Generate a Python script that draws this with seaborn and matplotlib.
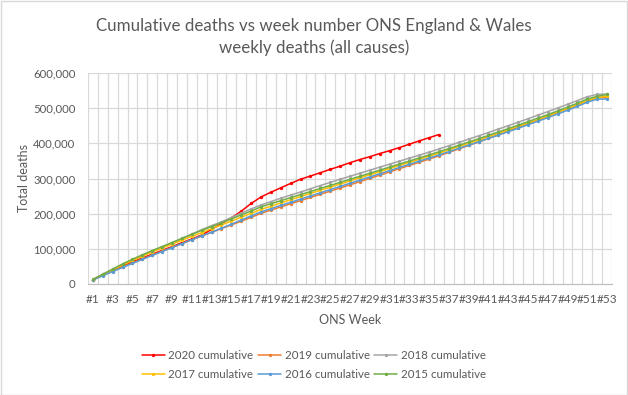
import matplotlib
matplotlib.use("Agg")
import matplotlib.pyplot as plt
import seaborn as sns
import pandas as pd
from matplotlib.patches import Rectangle
from matplotlib.ticker import FuncFormatter, FixedLocator
from matplotlib.lines import Line2D

# ---------------- data (cumulative deaths) ----------------
weeks = list(range(1, 54))
week_labels = ["#%d" % w for w in range(1, 54, 2)]

cum_2020 = [12300, 26300, 39300, 51200, 62800, 73800, 84700, 95500, 106300, 117400,
            128000, 139200, 155000, 172000, 188000, 207000, 229000, 247500, 261000, 273500,
            286000, 298000, 307000, 316500, 326000, 335000, 345000, 354000, 362000, 371000,
            379000, 388000, 397500, 407000, 416000, 425000]
cum_2019 = [12000, 24500, 36600, 48400, 60000, 71300, 82300, 93200, 104000, 114800,
            125600, 136500, 147000, 157600, 168000, 178400, 189500, 201000, 210000, 219200,
            228200, 237000, 246000, 255000, 264000, 273000, 282000, 291000, 300200, 309400,
            318600, 327800, 337000, 346100, 355100, 364500, 374200, 384000, 393900, 403900,
            414000, 424200, 434500, 444900, 455400, 466000, 476700, 487500, 498400, 509200,
            520000, 529500, 530000]
cum_2018 = [12700, 27800, 42000, 55600, 68600, 81000, 93100, 104900, 116600, 129500,
            142000, 154500, 166000, 176600, 189000, 201300, 213400, 224800, 234300, 244000,
            253000, 261500, 271000, 280000, 289000, 297800, 306400, 315000, 323600, 332200,
            340800, 349400, 357900, 366200, 375000, 384000, 393200, 402500, 411800, 421300,
            430800, 440400, 450100, 460000, 469900, 480000, 490200, 500400, 510900, 521600,
            532500, 539000, 540200]
cum_2017 = [12500, 26500, 40500, 54000, 67000, 79200, 91000, 102300, 113500, 124600,
            135500, 146200, 157500, 168000, 178500, 190000, 201000, 212000, 221200, 230600,
            239600, 248600, 257600, 266500, 275400, 284200, 293000, 301800, 310600, 319400,
            328200, 337000, 345800, 354600, 363300, 372000, 381300, 390600, 399900, 409300,
            418800, 428400, 438100, 447900, 457800, 467800, 478000, 488400, 499000, 510000,
            521500, 530000, 534000]
cum_2016 = [11500, 23500, 35500, 47200, 58700, 70000, 81200, 92400, 103600, 114800,
            126000, 137000, 147000, 158500, 170000, 182000, 193500, 205000, 214200, 223500,
            232300, 241400, 250400, 259400, 268400, 277400, 286400, 295400, 304400, 313400,
            322400, 331400, 340400, 349400, 358200, 367000, 376300, 385600, 394900, 404300,
            413800, 423400, 433100, 442900, 452800, 462800, 473000, 483400, 494000, 505200,
            516800, 525500, 526000]
cum_2015 = [13000, 27500, 42500, 57000, 70500, 83000, 95000, 106500, 118000, 129500,
            141000, 152500, 163500, 174000, 185000, 196500, 207500, 219500, 228300, 237000,
            245600, 254200, 262900, 271600, 280300, 289000, 297600, 306200, 314900, 323600,
            332300, 341000, 349700, 358400, 367100, 376000, 385100, 394300, 403600, 413000,
            422500, 432100, 441800, 451600, 461500, 471500, 481600, 492000, 502900, 514200,
            526000, 533500, 539000]

series_names = ["2020 cumulative", "2019 cumulative", "2018 cumulative",
                "2017 cumulative", "2016 cumulative", "2015 cumulative"]
series_values = [cum_2020, cum_2019, cum_2018, cum_2017, cum_2016, cum_2015]
series_colors = ["#FF0000", "#ED7D31", "#A5A5A5", "#FFC000", "#5B9BD5", "#70AD47"]

# ---------------- styling ----------------
sns.set_style("white")
plt.rcParams["font.family"] = ["Lato", "DejaVu Sans"]
text_color = "#595959"
grid_color = "#D9D9D9"

fig = plt.figure(figsize=(6.28, 3.95), dpi=100)
ax = fig.add_axes([88 / 628, 1 - 284 / 395, (612 - 88) / 628, (284 - 73) / 395])

for name, vals, col in zip(series_names, series_values, series_colors):
    df = pd.DataFrame({"week": weeks[:len(vals)], "deaths": vals})
    sns.lineplot(data=df, x="week", y="deaths", ax=ax, color=col, linewidth=1.1,
                 marker="o", markersize=2.4, markeredgewidth=0, label=name, legend=False)

ax.set_xlim(0.5, 53.5)
ax.set_ylim(0, 600000)
ax.yaxis.set_major_locator(FixedLocator(range(0, 600001, 100000)))
ax.yaxis.set_major_formatter(FuncFormatter(lambda v, p: "{:,.0f}".format(v)))
ax.set_xticks(list(range(1, 54, 2)))
ax.set_xticklabels(week_labels)
# vertical grid at category boundaries
for b in range(0, 54):
    ax.axvline(b + 0.5, color=grid_color, linewidth=0.9, zorder=0)
for v in range(100000, 600001, 100000):
    ax.axhline(v, color=grid_color, linewidth=0.9, zorder=0)

for s in ["top", "right", "left"]:
    ax.spines[s].set_visible(False)
ax.spines["bottom"].set_color("#BFBFBF")
ax.spines["bottom"].set_linewidth(0.9)
ax.tick_params(axis="y", length=0, labelsize=8.2, colors=text_color, pad=9)
ax.tick_params(axis="x", length=0, labelsize=8.5, colors=text_color, pad=7)

ax.set_xlabel("ONS Week", fontsize=9, color=text_color, labelpad=7)
ax.set_ylabel("Total deaths", fontsize=9, color=text_color)
ax.yaxis.set_label_coords(-0.11, 0.5)

fig.text(0.5, 1 - 26 / 395, "Cumulative deaths vs week number ONS England & Wales",
         ha="center", va="center", fontsize=12.2, color=text_color)
fig.text(0.5, 1 - 48 / 395, "weekly deaths (all causes)",
         ha="center", va="center", fontsize=12.2, color=text_color)

# legend (row-major order)
handles = {n: Line2D([], [], color=c, linewidth=1.1, marker="o", markersize=2.4,
                     markeredgewidth=0) for n, c in zip(series_names, series_colors)}
order = ["2020 cumulative", "2017 cumulative", "2019 cumulative",
         "2016 cumulative", "2018 cumulative", "2015 cumulative"]
fig.legend([handles[n] for n in order], order, ncol=3, frameon=False,
           loc="center", bbox_to_anchor=(0.5, 1 - 365 / 395), fontsize=8.3,
           labelcolor=text_color, handlelength=2.0, handletextpad=0.3,
           columnspacing=0.4, labelspacing=0.75)

fig.patches.append(Rectangle((0.5 / 628, 0.5 / 395), 1 - 1.5 / 628, 1 - 1.5 / 395,
                             transform=fig.transFigure, fill=False,
                             edgecolor="#D9D9D9", linewidth=1))

fig.savefig("out.png", dpi=100)
